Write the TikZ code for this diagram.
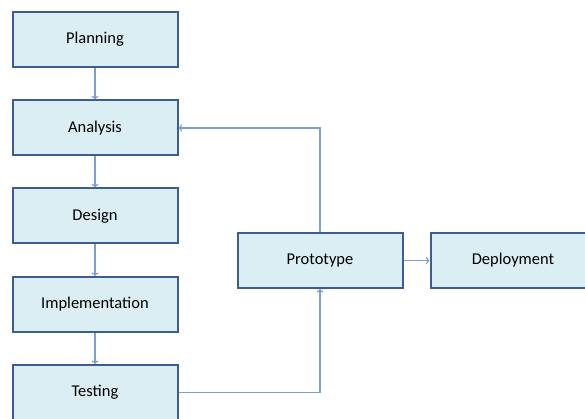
\documentclass[tikz,border=0pt]{standalone}
\usepackage{fontspec}
\setmainfont{Carlito}
\usetikzlibrary{arrows.meta}
\definecolor{boxfill}{HTML}{DBEEF4}
\definecolor{boxline}{HTML}{3B5E8C}
\definecolor{linkline}{HTML}{7BA0D0}
\tikzset{
  stage/.style={draw=boxline, line width=2pt, fill=boxfill, minimum width=165pt,
    minimum height=55pt, inner sep=0pt, font=\fontsize{16.5}{18}\selectfont},
  link/.style={draw=linkline, line width=1.2pt, -{To[length=3.5pt,width=7pt]}}
}
\begin{document}
\begin{tikzpicture}[x=1pt,y=-1pt]
  \useasboundingbox (0,0) rectangle (585,419);
  \begin{scope}
    \clip (0,0) rectangle (585,419);
    \node[stage] (plan) at (95,39.5) {Planning};
    \node[stage] (ana) at (95,128) {Analysis};
    \node[stage] (des) at (95,216) {Design};
    \node[stage] (imp) at (95,304.5) {Implementation};
    \node[stage] (test) at (95,392.5) {Testing};
    \node[stage] (proto) at (320,260.5) {Prototype};
    \node[stage] (dep) at (513,260.5) {Deployment};

    \draw[link] (plan) -- (ana);
    \draw[link] (ana) -- (des);
    \draw[link] (des) -- (imp);
    \draw[link] (imp) -- (test);
    \draw[link] (proto.north) |- (ana.east);
    \draw[link] (test.east) -| (proto.south);
    \draw[link] (proto) -- (dep);
  \end{scope}
\end{tikzpicture}
\end{document}
